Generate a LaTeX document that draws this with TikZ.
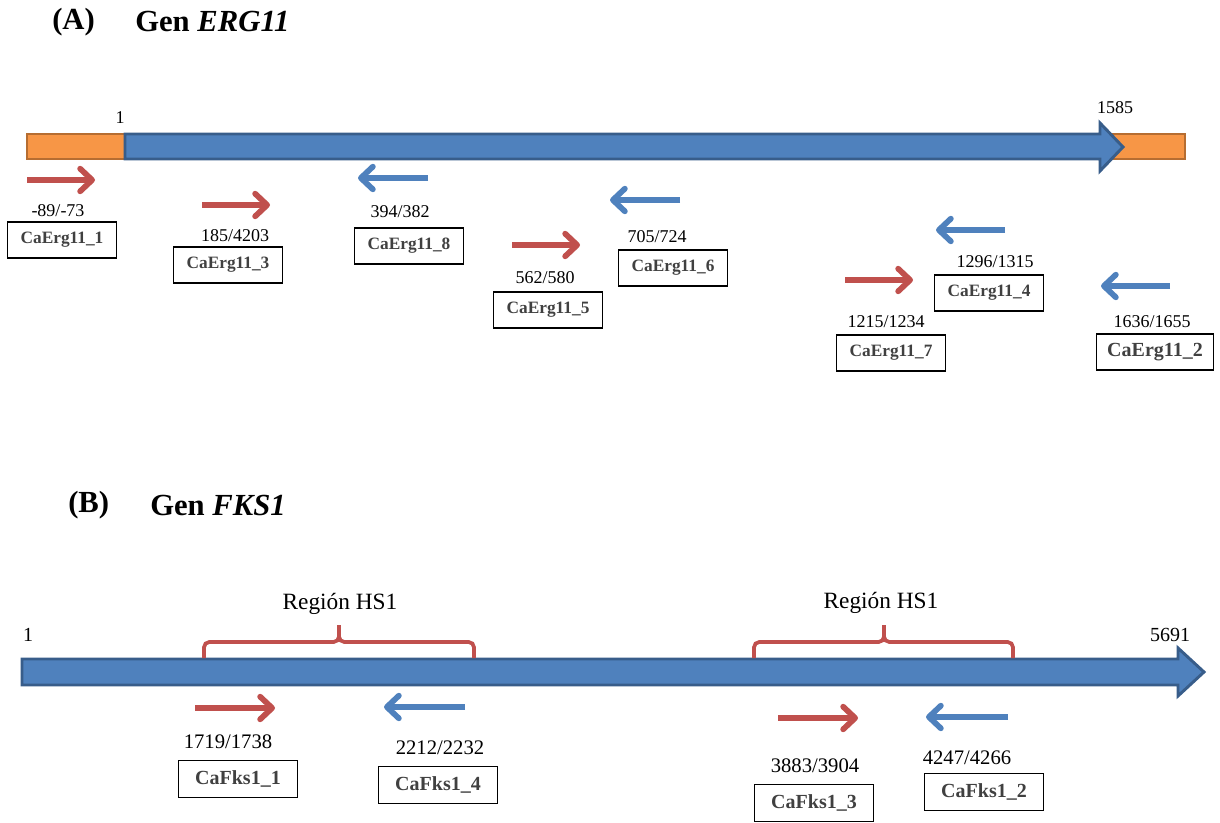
\documentclass[tikz,border=0pt]{standalone}
\usepackage{fontspec}
\setmainfont{Liberation Serif}
\usetikzlibrary{arrows.meta,positioning}
\definecolor{MyBlue}{HTML}{4F81BD}
\definecolor{MyDarkBlue}{HTML}{385D8A}
\definecolor{MyOrange}{HTML}{F79646}
\definecolor{MyBrown}{HTML}{B66D31}
\definecolor{MyRed}{HTML}{C0504D}
\definecolor{MyGray}{HTML}{404040}
\tikzset{
	fwd/.style={MyRed, line width=4.3pt, -{Straight Barb[length=9pt, width=17pt, round]}},
	rev/.style={MyBlue, line width=4.3pt, -{Straight Barb[length=9pt, width=17pt, round]}},
	num/.style={inner sep=0pt, font=\fontsize{13.5}{16}\selectfont},
	primer/.style={draw=black, line width=0.9pt, minimum width=82pt, minimum height=27pt, inner sep=0pt, text=MyGray, font=\fontsize{13}{15}\selectfont\bfseries},
	primerB/.style={primer, minimum width=89pt, minimum height=28pt, font=\fontsize{15}{17}\selectfont\bfseries},
	title/.style={anchor=west, inner sep=0pt, font=\fontsize{23}{27}\selectfont\bfseries},
	hsbrace/.style={MyRed, line width=2.8pt, rounded corners=4pt},
	gene/.style={MyDarkBlue, fill=MyBlue, line width=2.2pt, line join=miter},
	utr/.style={MyBrown, fill=MyOrange, line width=2.2pt},
}
\begin{document}
\begin{tikzpicture}[x=0.75pt, y=-0.75pt]
	\useasboundingbox (0,0) rectangle (1220,823);
	% (A) ERG11
	\node[title] (tA) at (52,22) {(A)};
	\node[title] (gA) at (135,22) {Gen \textit{ERG11}};
	%
	\draw[utr] (1085,134) rectangle (1185,159);
	\draw[utr] (27,134) rectangle (125,159);
	\draw[gene] (125,134) -- (1100,134) -- (1100,123) -- (1123,147) -- (1100,171) -- (1100,159) -- (125,159) -- cycle;
	\node[num] (sA) at (120,118) {1};
	\node[num] (eA) at (1115,108) {1585};
	%
	\draw[fwd] (27,180) -- (95,180);
	\node[num] (nA1) at (58,211) {-89/-73};
	\node[primer] (pA1) at (62,240) {CaErg11\_1};
	%
	\draw[fwd] (202,205) -- (270,205);
	\node[num] (nA3) at (235,236) {185/4203};
	\node[primer] (pA3) at (228,265) {CaErg11\_3};
	%
	\draw[rev] (428,178) -- (358,178);
	\node[num] (nA8) at (400,212) {394/382};
	\node[primer] (pA8) at (409,246) {CaErg11\_8};
	%
	\draw[fwd] (512,245) -- (580,245);
	\node[num] (nA5) at (545,278) {562/580};
	\node[primer] (pA5) at (548,310) {CaErg11\_5};
	%
	\draw[rev] (680,200) -- (610,200);
	\node[num] (nA6) at (657,237) {705/724};
	\node[primer] (pA6) at (673,268) {CaErg11\_6};
	%
	\draw[rev] (1005,230) -- (936,230);
	\node[num] (nA4) at (995,262) {1296/1315};
	\node[primer] (pA4) at (989,293) {CaErg11\_4};
	%
	\draw[fwd] (845,280) -- (913,280);
	\node[num] (nA7) at (886,322) {1215/1234};
	\node[primer] (pA7) at (891,353) {CaErg11\_7};
	%
	\draw[rev] (1170,286) -- (1101,286);
	\node[num] (nA2) at (1152,322) {1636/1655};
	\node[primer, minimum width=88pt, font=\fontsize{15}{17}\selectfont\bfseries] (pA2) at (1155,352) {CaErg11\_2};
	%
	% (B) FKS1
	\node[title] (tB) at (68,505) {(B)};
	\node[title] (gB) at (150,505) {Gen \textit{FKS1}};
	%
	\draw[gene] (22,659) -- (1178,659) -- (1178,648) -- (1204,672) -- (1178,696) -- (1178,685) -- (22,685) -- cycle;
	\node[num, font=\fontsize{15}{17}\selectfont] (sB) at (28,635) {1};
	\node[num, font=\fontsize{15}{17}\selectfont] (eB) at (1170,635) {5691};
	%
	\draw[hsbrace] (204,658) -- (204,642) -- (339,642) -- (339,625);
	\draw[hsbrace] (474,658) -- (474,642) -- (339,642) -- (339,625);
	\node[num, font=\fontsize{17.5}{20}\selectfont] (hs1) at (340,604) {Región HS1};
	%
	\draw[hsbrace] (754,658) -- (754,642) -- (884,642) -- (884,625);
	\draw[hsbrace] (1013,658) -- (1013,642) -- (884,642) -- (884,625);
	\node[num, font=\fontsize{17.5}{20}\selectfont] (hs2) at (881,603) {Región HS1};
	%
	\draw[fwd] (195,708) -- (275,708);
	\node[num, font=\fontsize{15.5}{18}\selectfont] (nB1) at (228,742) {1719/1738};
	\node[primerB] (pB1) at (238,779) {CaFks1\_1};
	%
	\draw[rev] (465,707) -- (384,707);
	\node[num, font=\fontsize{15.5}{18}\selectfont] (nB4) at (440,748) {2212/2232};
	\node[primerB] (pB4) at (438,785) {CaFks1\_4};
	%
	\draw[fwd] (778,718) -- (858,718);
	\node[num, font=\fontsize{15.5}{18}\selectfont] (nB3) at (815,766) {3883/3904};
	\node[primerB] (pB3) at (814,803) {CaFks1\_3};
	%
	\draw[rev] (1008,717) -- (926,717);
	\node[num, font=\fontsize{15.5}{18}\selectfont] (nB2) at (967,758) {4247/4266};
	\node[primerB] (pB2) at (984,792) {CaFks1\_2};
\end{tikzpicture}
\end{document}
